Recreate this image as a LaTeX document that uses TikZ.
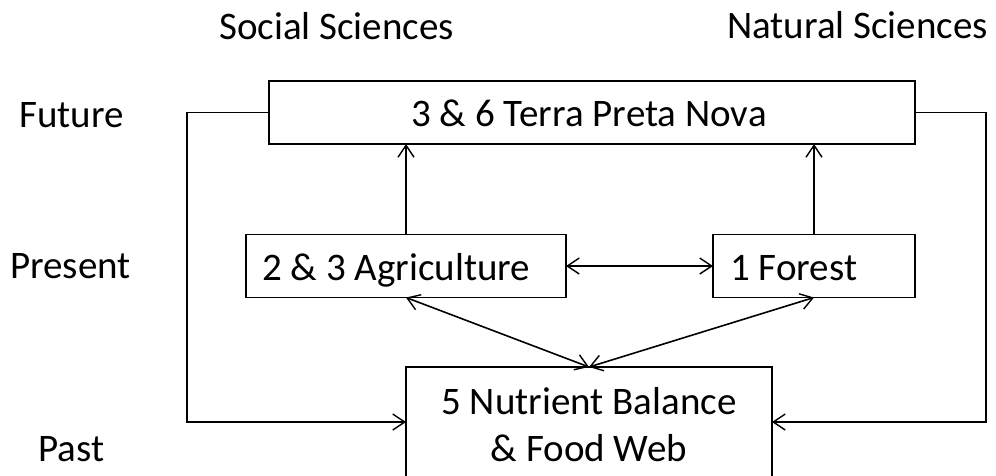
\documentclass[tikz,border=0pt]{standalone}
\usepackage{fontspec}
\setmainfont{Carlito}
\usetikzlibrary{arrows.meta}
\begin{document}
\begin{tikzpicture}[x=1pt,y=-1pt,
  font=\fontsize{39}{47}\selectfont,
  >={Straight Barb[length=12pt,width=16pt,line width=1.4pt]},
  box/.style={draw, line width=1.6pt, inner sep=0pt, outer sep=0pt},
  link/.style={line width=1.6pt, ->},
  both/.style={line width=1.6pt, <->},
  lbl/.style={inner sep=0pt, anchor=base west}]
\clip (0,0) rectangle (996,475);
\fill[white] (0,0) rectangle (996,475);

% column and row headings
\node[lbl] (soc) at (219,39) {Social Sciences};
\node[lbl] (nat) at (727,38) {Natural Sciences};
\node[lbl] (fut) at (19,127) {Future};
\node[lbl] (pre) at (10,278) {Present};
\node[lbl] (pas) at (38,461) {Past};

% boxes
\node[box, minimum width=646pt, minimum height=63pt] (tpn) at (592,112.5) {};
\node[box, minimum width=320pt, minimum height=63pt] (agr) at (406,266) {};
\node[box, minimum width=202pt, minimum height=63pt] (for) at (814,266) {};
\node[box, minimum width=366pt, minimum height=130pt, anchor=north] (nut) at (589,367) {};

% box texts
\node[inner sep=0pt, anchor=base] (tpnt) at (589,126) {3 \& 6 Terra Preta Nova};
\node[lbl] (agrt) at (262,280) {2 \& 3 Agriculture};
\node[lbl] (fort) at (730,280) {1 Forest};
\node[inner sep=0pt, anchor=base] (nut1) at (589,414) {5 Nutrient Balance};
\node[inner sep=0pt, anchor=base] (nut2) at (589,461) {\& Food Web};

% connectors
\draw[link] (agr.north) -- (agr.north |- tpn.south);
\draw[link] (for.north) -- (for.north |- tpn.south);
\draw[both] (agr.east) -- (for.west);
\draw[both] (agr.south) -- (nut.north);
\draw[both] (for.south) -- (nut.north);

\coordinate (lt) at (187,112.5);
\coordinate (lb) at (187,422);
\coordinate (rt) at (986,112.5);
\coordinate (rb) at (986,422);
\draw[link] (tpn.west) -- (lt) -- (lb) -- (lb -| nut.west);
\draw[link] (tpn.east) -- (rt) -- (rb) -- (rb -| nut.east);
\end{tikzpicture}
\end{document}
